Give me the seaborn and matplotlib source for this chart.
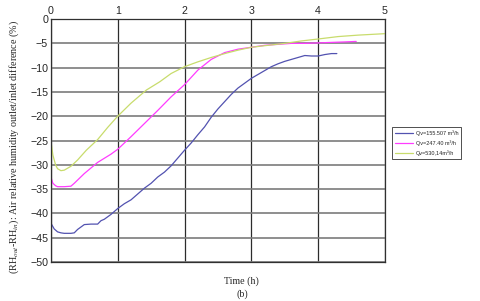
import matplotlib
matplotlib.use("Agg")
import matplotlib.pyplot as plt
import seaborn as sns
import pandas as pd

# data
t_blue = [0, 0.05, 0.1, 0.15, 0.2, 0.3, 0.35, 0.4, 0.45, 0.5, 0.6, 0.7, 0.75, 0.8, 0.9,
          1.0, 1.1, 1.2, 1.3, 1.4, 1.5, 1.6, 1.7, 1.8, 1.9, 2.0, 2.1, 2.2, 2.3, 2.4, 2.5,
          2.6, 2.7, 2.8, 2.9, 3.0, 3.1, 3.2, 3.3, 3.4, 3.5, 3.6, 3.7, 3.8, 3.9, 4.0, 4.1,
          4.2, 4.28]
rh_blue = [-42, -43.2, -43.8, -44, -44.1, -44.1, -44, -43.3, -42.8, -42.3, -42.2, -42.2,
           -41.5, -41.2, -40.2, -39, -38, -37.2, -36, -34.8, -33.8, -32.5, -31.5, -30.2,
           -28.6, -27, -25.5, -23.8, -22.2, -20.2, -18.5, -17, -15.5, -14.2, -13.2, -12.2,
           -11.4, -10.6, -9.8, -9.2, -8.7, -8.3, -7.9, -7.5, -7.6, -7.6, -7.3, -7.1, -7.1]

t_mag = [0, 0.03, 0.07, 0.1, 0.2, 0.3, 0.35, 0.5, 0.7, 0.9, 1.0, 1.2, 1.4, 1.6, 1.8, 2.0,
         2.2, 2.4, 2.6, 2.8, 3.0, 3.2, 3.4, 3.6, 3.8, 4.0, 4.2, 4.4, 4.57]
rh_mag = [-32.5, -33.8, -34.3, -34.5, -34.5, -34.4, -33.8, -31.8, -29.5, -27.8, -26.8,
          -24.2, -21.5, -18.8, -16.0, -13.5, -10.5, -8.3, -6.9, -6.2, -5.8, -5.4, -5.2,
          -5.0, -5.0, -4.9, -4.8, -4.7, -4.6]

t_yel = [0, 0.03, 0.07, 0.1, 0.15, 0.2, 0.3, 0.4, 0.53, 0.7, 0.85, 1.0, 1.2, 1.43, 1.63,
         1.8, 2.0, 2.2, 2.4, 2.63, 2.8, 3.0, 3.25, 3.5, 3.75, 4.0, 4.3, 4.6, 5.0]
rh_yel = [-25, -28, -30, -30.8, -31.2, -31.1, -30.3, -29, -27, -24.8, -22.3, -20, -17.3,
          -14.6, -12.9, -11.2, -9.8, -8.8, -7.9, -7.0, -6.4, -5.8, -5.4, -5.0, -4.5, -4.1,
          -3.6, -3.3, -3.0]

labels = ["Qv=155.507 m\u00b3/h", "Qv=247.40 m\u00b3/h", "Qv=530,14m\u00b3/h"]
colors = ["#5252b0", "#ff3cff", "#c8dc6c"]

sns.set_style("white")
plt.rcParams["font.family"] = ["Liberation Sans", "DejaVu Sans"]
plt.rcParams["mathtext.fontset"] = "stix"

fig = plt.figure(figsize=(4.8, 3.01), dpi=100)
ax = fig.add_axes([0.106, 0.1296, 0.696, 0.807])

series = [(t_blue, rh_blue), (t_mag, rh_mag), (t_yel, rh_yel)]
for (t, rh), lab, col in zip(series, labels, colors):
    df = pd.DataFrame({"t": t, "rh": rh})
    sns.lineplot(data=df, x="t", y="rh", ax=ax, color=col, linewidth=0.9,
                 label=lab, sort=False)

ax.set_xlim(0, 5)
ax.set_ylim(-50, 0)
ax.set_xticks(range(0, 6))
ax.set_yticks(range(-50, 1, 5))
ax.xaxis.tick_top()
ax.tick_params(length=0, labelsize=7.7, pad=2)
# horizontal lines lighter grey, vertical ones dark
ax.yaxis.grid(True, color="#7c7c7c", linewidth=1.2)
ax.xaxis.grid(True, color="#2c2c2c", linewidth=0.9)
for s in ax.spines.values():
    s.set_color("#303030")
    s.set_linewidth(0.9)

ax.set_xlabel("")
ax.set_ylabel(r"(RH$_{out}$-RH$_{in}$): Air relative humidity outlet/inlet difference (%)",
              family="Liberation Serif", fontsize=7.3)
ax.yaxis.set_label_coords(-0.09, 0.475)
fig.text(0.504, 0.065, "Time (h)", family="Liberation Serif", fontsize=7.2,
         ha="center", va="center")
fig.text(0.504, 0.022, "(b)", family="Liberation Serif", fontsize=7.2,
         ha="center", va="center")

leg = ax.legend(loc="upper left", bbox_to_anchor=(1.022, 0.555), fontsize=4.0,
                frameon=True, fancybox=False, borderpad=0.5, handlelength=3.2,
                labelspacing=0.85, handletextpad=0.5, borderaxespad=0)
leg.get_frame().set_edgecolor("black")
leg.get_frame().set_linewidth(0.6)

fig.savefig("out.png", dpi=100)
